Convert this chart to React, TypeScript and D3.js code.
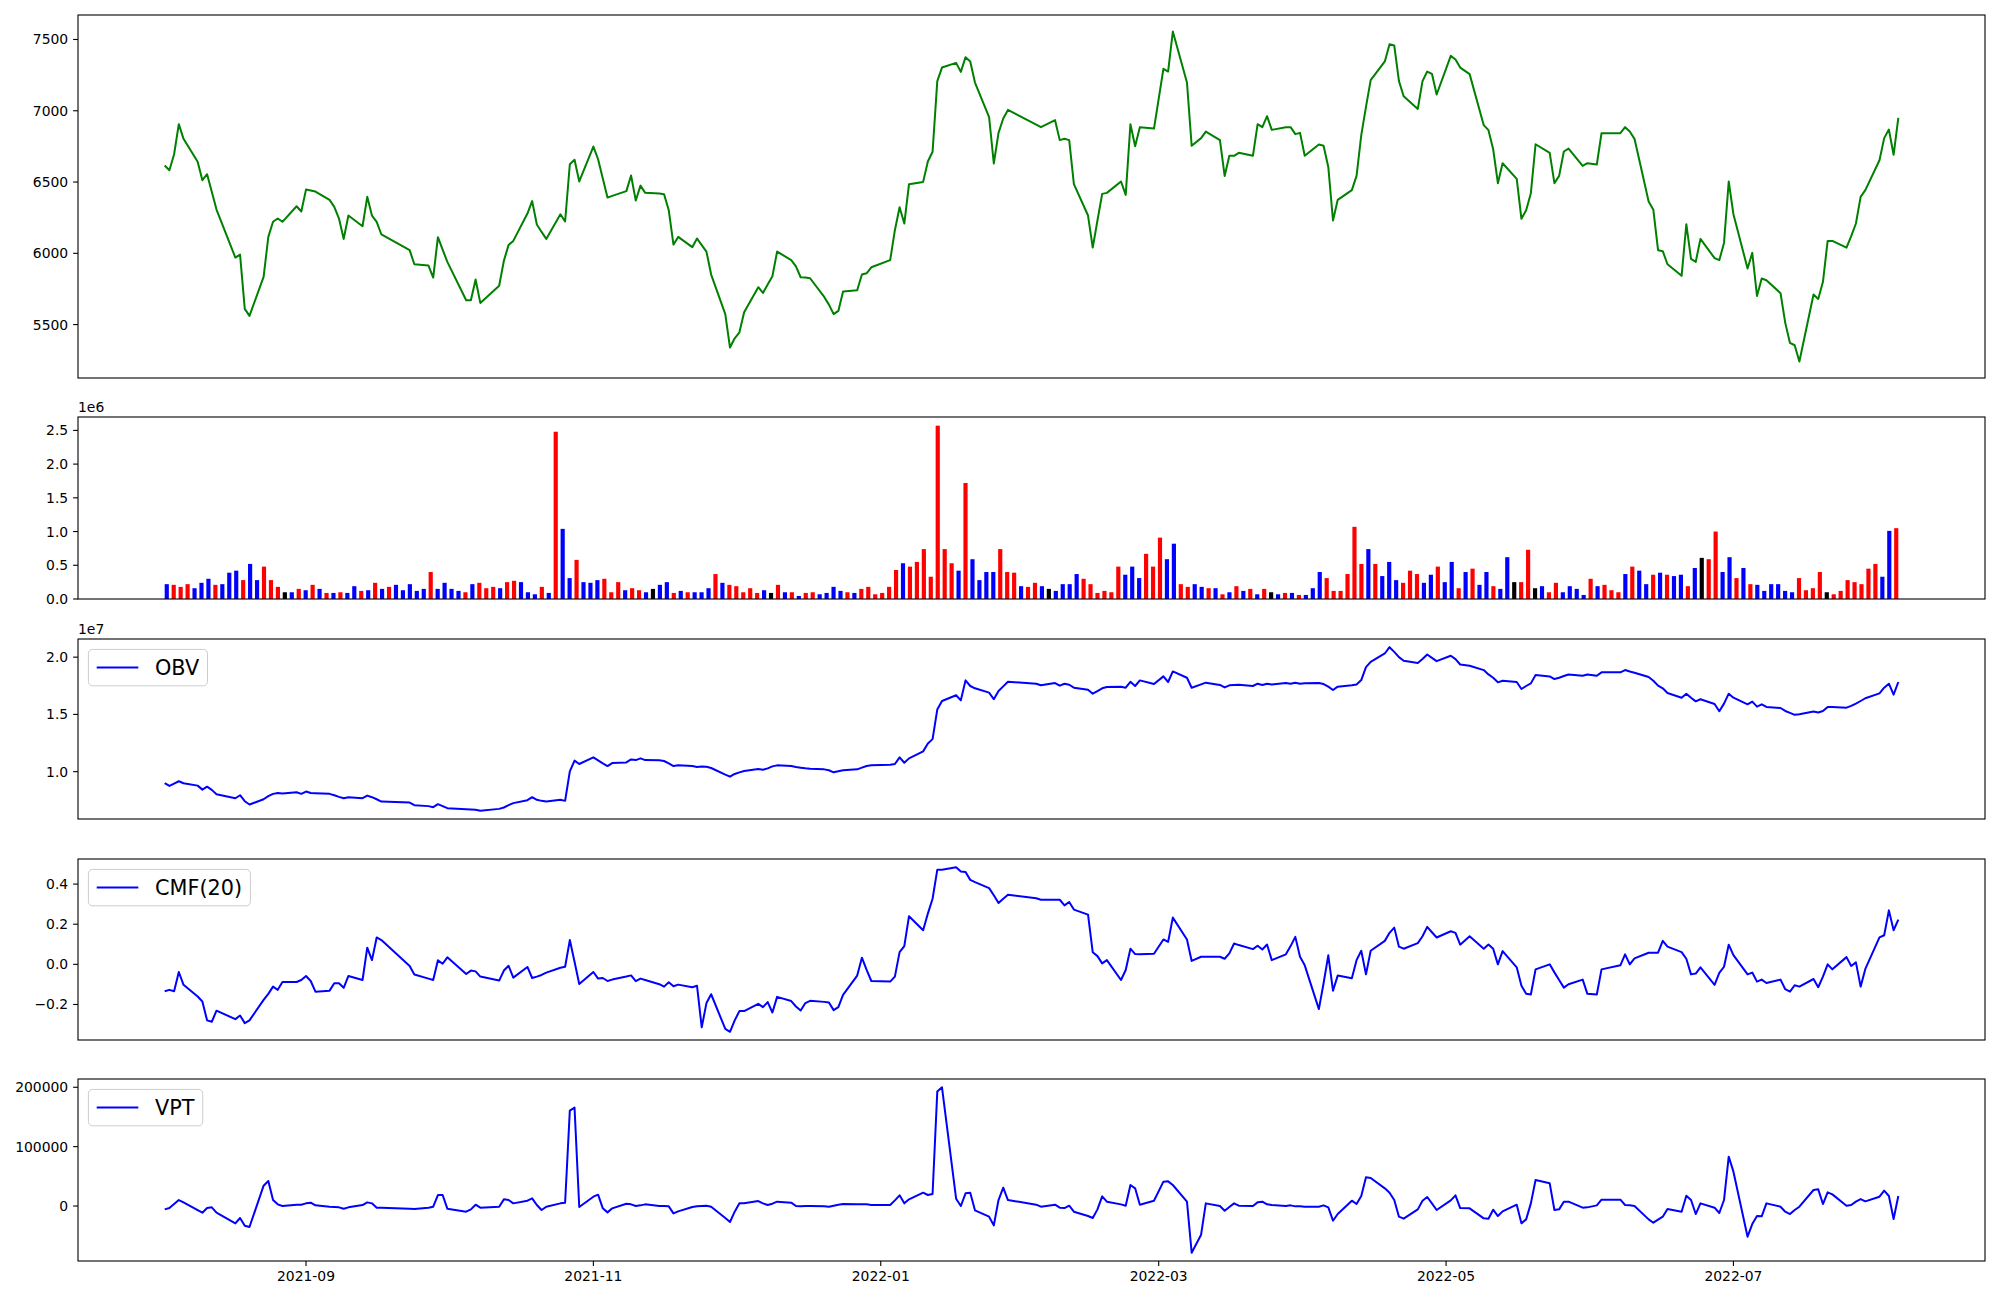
import React, { useMemo } from 'react';
import * as d3 from 'd3';

// ---------------- DATA ----------------
const START_DATE = '2021-08-02';
const END_DATE = '2022-08-05';
// KRX market holidays (weekdays) inside the range
const HOLIDAYS = [
  '2021-08-16', '2021-09-20', '2021-09-21', '2021-09-22', '2021-10-04', '2021-10-11',
  '2021-12-31', '2022-01-31', '2022-02-01', '2022-02-02', '2022-03-01', '2022-03-09',
  '2022-05-05', '2022-06-01', '2022-06-06',
];

const CLOSE = [
  6616, 6583, 6695, 6906, 6803, 6642, 6513, 6555, 6431, 6307, 5970, 5991, 5610, 5561, 5835, 6115, 6221, 6244, 6221, 6330, 6293,
  6447, 6440, 6433, 6375, 6326, 6244, 6101, 6265, 6190, 6396, 6265, 6221, 6132, 6022, 5923, 5914, 5830, 6113, 6026,
  5940, 5671, 5671, 5816, 5652, 5772, 5947, 6059, 6087, 6279, 6366, 6202, 6150, 6101, 6274, 6223, 6625, 6656, 6504,
  6749, 6660, 6525, 6391, 6403, 6436, 6546, 6370, 6475, 6424, 6419, 6415, 6302, 6061, 6115, 6043, 6104, 6057, 6012, 5851, 5573, 5339,
  5404, 5446, 5587, 5762, 5722, 5781, 5839, 6012, 5952, 5909, 5832, 5830, 5825, 5694, 5640, 5573, 5596, 5732, 5741, 5851, 5860, 5902,
  5952, 6162, 6323, 6209, 6485, 6501, 6644, 6712, 7208, 7303, 7336, 7273, 7376, 7346, 7198, 6955, 6630, 6845, 6946, 7006,
  6903, 6885, 6934, 6794, 6803, 6794, 6485, 6265, 6040, 6230, 6417, 6424, 6504, 6410, 6906, 6751, 6885, 6875,
  7294, 7275, 7556, 7198, 6754, 6808, 6854, 6794, 6543, 6684, 6684, 6705, 6684, 6906, 6885, 6962, 6866, 6885, 6885, 6836, 6845,
  6684, 6763, 6754, 6606, 6230, 6375, 6443, 6543, 6829, 7027, 7215, 7346, 7467, 7458, 7208, 7102, 7013, 7208, 7275, 7259, 7114,
  7385, 7360, 7303, 7257, 6899, 6864, 6730, 6492, 6632, 6522, 6242, 6302, 6422, 6765, 6705, 6492, 6543, 6714, 6735, 6613, 6632,
  6623, 6843, 6843, 6885, 6854, 6803, 6363, 6305, 6022, 6015, 5923, 5842, 6204, 5961, 5940, 6101, 5966, 5952, 6073, 6504,
  6274, 5893, 6003, 5701, 5823, 5811, 5720, 5512, 5371, 5355, 5241, 5711, 5680, 5800, 6087, 6087, 6040, 6120, 6209, 6396, 6443,
  6653, 6808, 6868, 6691, 6950,
];

// volume in units of 1e6 shares
const VOLUME_M = [
  0.22, 0.21, 0.18, 0.22, 0.16, 0.24, 0.30, 0.21, 0.22, 0.39,
  0.42, 0.28, 0.52, 0.28, 0.48, 0.28, 0.18, 0.10, 0.10, 0.15,
  0.13, 0.21, 0.15, 0.09, 0.09, 0.10, 0.09, 0.19, 0.12, 0.13,
  0.24, 0.15, 0.18, 0.21, 0.13, 0.22, 0.12, 0.15, 0.40, 0.15,
  0.24, 0.15, 0.12, 0.10, 0.22, 0.24, 0.16, 0.18, 0.16, 0.25,
  0.27, 0.25, 0.10, 0.07, 0.18, 0.09, 2.48, 1.04, 0.31, 0.58,
  0.25, 0.24, 0.28, 0.30, 0.10, 0.25, 0.13, 0.16, 0.13, 0.10,
  0.15, 0.21, 0.25, 0.09, 0.12, 0.10, 0.10,
  0.10, 0.16, 0.37, 0.24, 0.21, 0.19, 0.10, 0.16, 0.09, 0.13,
  0.09, 0.21, 0.10, 0.10, 0.045, 0.09, 0.10, 0.07, 0.09, 0.18,
  0.12, 0.10, 0.09, 0.15, 0.18, 0.07, 0.09, 0.18, 0.43, 0.53,
  0.48, 0.55, 0.74, 0.33, 2.57, 0.74, 0.53, 0.42, 1.72, 0.59,
  0.28, 0.40, 0.40, 0.74, 0.40, 0.39, 0.19, 0.18, 0.24, 0.19,
  0.15, 0.12, 0.22, 0.22, 0.37, 0.30, 0.22, 0.09, 0.12, 0.10,
  0.48, 0.36, 0.48, 0.31, 0.67, 0.48, 0.91, 0.59, 0.82, 0.22,
  0.18, 0.22, 0.18, 0.16, 0.16, 0.07, 0.10, 0.19, 0.12, 0.15,
  0.07, 0.15, 0.10, 0.07, 0.09, 0.09, 0.06, 0.06, 0.16, 0.40,
  0.31, 0.12, 0.12, 0.37, 1.07, 0.52, 0.74, 0.52, 0.34, 0.55,
  0.28, 0.24, 0.42, 0.37, 0.24, 0.36, 0.48, 0.25, 0.55, 0.16,
  0.40, 0.45, 0.21, 0.40, 0.19, 0.15, 0.62, 0.25, 0.25, 0.73,
  0.16, 0.19, 0.10, 0.24, 0.10, 0.19, 0.15, 0.06, 0.30, 0.19,
  0.21, 0.13, 0.10, 0.37, 0.48, 0.42, 0.22, 0.36, 0.39, 0.36,
  0.34, 0.36, 0.19, 0.46, 0.61, 0.59, 1.00, 0.40, 0.62, 0.31,
  0.46, 0.22, 0.21, 0.12, 0.22, 0.22, 0.12, 0.10, 0.31, 0.13,
  0.16, 0.40, 0.10, 0.07, 0.12, 0.28, 0.25, 0.22, 0.45, 0.52,
  0.33, 1.01, 1.05,
];

// bar colour per day: r = red, b = blue, k = black
const VOLUME_COLOR_CODES = [
  'brrrbbbrbb', 'brbbrrrkbr', 'brbrbrbbrb', 'rbrbbbbbrb', 'bbbrbrrrbr', 'rbbbrbrbbr', 'bbbrrrbrrb', 'kbbrbrb',
  'bbrbrrrrrb', 'krbrbrrbbb', 'brbrrrrrrb', 'rrrrrrrbrb', 'bbbrrrbrrb', 'kbbbbrrrrr', 'rbbbrrrbbr', 'rbbrbrbrbr',
  'brkbrbrbbb', 'rrrrrrbrbb', 'brrrbbrbbr', 'brbbrbbkrr', 'kbrrbbbbrb', 'rrrbrbbrbr', 'bbrbkrrbbr', 'brbbbbbbrr',
  'rrkrrrrrrr', 'bbr',
].join('').split('');

// OBV in units of 1e7
const OBV_E7 = [
  0.899, 0.875, 0.896, 0.916, 0.899, 0.878, 0.843, 0.869, 0.841, 0.803, 0.768, 0.794, 0.742, 0.713, 0.759, 0.786, 0.806, 0.814, 0.809, 0.820, 0.806,
  0.826, 0.814, 0.812, 0.806, 0.794, 0.780, 0.768, 0.777, 0.768, 0.791, 0.777, 0.759, 0.739, 0.730, 0.707, 0.699, 0.690, 0.716, 0.699,
  0.681, 0.672, 0.670, 0.667, 0.658, 0.675, 0.687, 0.707, 0.725, 0.751, 0.777, 0.754, 0.745, 0.739, 0.754, 0.745, 1.003, 1.096, 1.067,
  1.125, 1.099, 1.072, 1.049, 1.075, 1.081, 1.107, 1.101, 1.116, 1.101, 1.099, 1.093, 1.072, 1.049, 1.055, 1.049, 1.041, 1.046, 1.043, 1.032, 0.974, 0.956,
  0.980, 0.994, 1.006, 1.023, 1.017, 1.029, 1.046, 1.055, 1.049, 1.041, 1.035, 1.029, 1.026, 1.020, 1.012, 0.994, 1.003, 1.012, 1.020, 1.035, 1.049, 1.055,
  1.061, 1.067, 1.125, 1.078, 1.116, 1.177, 1.246, 1.284, 1.542, 1.617, 1.667, 1.623, 1.797, 1.748, 1.728, 1.690, 1.632, 1.704, 1.745, 1.785,
  1.768, 1.754, 1.774, 1.751, 1.768, 1.759, 1.733, 1.716, 1.681, 1.704, 1.728, 1.739, 1.742, 1.733, 1.785, 1.748, 1.797, 1.765,
  1.832, 1.783, 1.875, 1.820, 1.733, 1.762, 1.777, 1.757, 1.736, 1.754, 1.757, 1.759, 1.748, 1.768, 1.757, 1.768, 1.762, 1.774, 1.768, 1.777, 1.768,
  1.771, 1.774, 1.765, 1.742, 1.713, 1.742, 1.754, 1.762, 1.800, 1.913, 1.959, 2.032, 2.087, 2.046, 2.000, 1.968, 1.948, 1.983, 2.023, 1.994, 1.965,
  2.012, 1.983, 1.936, 1.925, 1.887, 1.849, 1.820, 1.780, 1.794, 1.783, 1.722, 1.748, 1.771, 1.844, 1.832, 1.809, 1.820, 1.835, 1.849, 1.838, 1.849,
  1.838, 1.867, 1.867, 1.887, 1.875, 1.864, 1.826, 1.794, 1.751, 1.728, 1.687, 1.646, 1.681, 1.646, 1.614, 1.632, 1.591, 1.528, 1.594, 1.681,
  1.646, 1.588, 1.612, 1.568, 1.588, 1.565, 1.556, 1.530, 1.513, 1.496, 1.501, 1.525, 1.516, 1.530, 1.565, 1.565, 1.559, 1.574, 1.594, 1.617, 1.641,
  1.684, 1.733, 1.768, 1.672, 1.783,
];

const CMF20 = [
  -0.134, -0.127, -0.134, -0.038, -0.102, -0.160, -0.185, -0.279, -0.286, -0.231, -0.273, -0.255, -0.293, -0.279, -0.177, -0.147, -0.111, -0.127, -0.088, -0.088, -0.078,
  -0.058, -0.083, -0.136, -0.131, -0.094, -0.094, -0.117, -0.058, -0.078, 0.083, 0.021, 0.134, 0.121, -0.008, -0.051, -0.071, -0.078, 0.020, 0.003,
  0.035, -0.048, -0.031, -0.035, -0.061, -0.081, -0.031, -0.007, -0.066, -0.013, -0.068, -0.061, -0.053, -0.041, -0.017, -0.012, 0.121, 0.013, -0.098,
  -0.038, -0.071, -0.068, -0.083, -0.076, -0.061, -0.055, -0.084, -0.071, -0.078, -0.099, -0.111, -0.089, -0.109, -0.101, -0.114, -0.107, -0.314, -0.193, -0.149, -0.322, -0.336,
  -0.279, -0.233, -0.233, -0.197, -0.213, -0.188, -0.240, -0.162, -0.183, -0.210, -0.230, -0.193, -0.182, -0.187, -0.190, -0.228, -0.213, -0.152, -0.056, 0.033, -0.028, -0.083,
  -0.086, -0.061, 0.061, 0.091, 0.240, 0.170, 0.253, 0.327, 0.471, 0.471, 0.484, 0.463, 0.460, 0.421, 0.410, 0.380, 0.344, 0.306, 0.327, 0.347,
  0.329, 0.322, 0.322, 0.322, 0.294, 0.311, 0.273, 0.248, 0.060, 0.041, 0.005, 0.021, -0.078, -0.028, 0.078, 0.051, 0.050, 0.053,
  0.124, 0.112, 0.233, 0.124, 0.017, 0.038, 0.038, 0.038, 0.028, 0.055, 0.104, 0.096, 0.076, 0.093, 0.074, 0.099, 0.021, 0.050, 0.091, 0.137, 0.038,
  -0.005, -0.223, -0.094, 0.045, -0.131, -0.056, -0.069, 0.021, 0.068, -0.050, 0.068, 0.117, 0.157, 0.183, 0.088, 0.078, 0.106, 0.140, 0.187, 0.160, 0.134,
  0.165, 0.157, 0.098, 0.140, 0.078, 0.099, 0.078, 0.000, 0.066, -0.015, -0.107, -0.147, -0.150, -0.025, 0.000, -0.040, -0.078, -0.116, -0.099, -0.076, -0.147,
  -0.150, -0.025, -0.005, 0.050, 0.000, 0.030, 0.058, 0.058, 0.058, 0.117, 0.088, 0.061, 0.028, -0.050, -0.046, -0.015, -0.102, -0.043, -0.012, 0.098,
  0.046, -0.050, -0.041, -0.086, -0.076, -0.093, -0.076, -0.124, -0.136, -0.104, -0.111, -0.073, -0.114, -0.061, 0.000, -0.025, 0.036, -0.008, 0.010, -0.111, -0.023,
  0.134, 0.145, 0.269, 0.170, 0.223,
];

const VPT = [
  -5618, -3371, 3371, 10112, 6180, -6742, -11236, -3371, -2247, -11236, -29214, -20225, -33146, -35393, 34270, 42135, 10112, 2809, 0, 2247, 2247,
  4494, 5618, 1124, -1124, -1685, -2247, -4494, -2247, 1685, 6180, 4494, -2809, -2809, -4494, -5056, -2809, -1124, 18539, 18539,
  -4494, -9551, -5618, 2247, -2809, -1124, 11236, 10112, 4494, 8989, 12921, 1685, -6742, -1124, 4494, 5618, 160675, 165731, -1685,
  15730, 19101, -3933, -10674, -3933, 3933, 2809, 0, 1124, 2809, 0, 0, -562, -12360, -8989, -1685, -562, 0, 562, -1124, -20225, -26966,
  -9551, 4494, 4494, 8427, 4494, 1685, 3933, 7303, 5618, 0, -562, 0, 0, -562, -1124, 562, 2247, 3371, 2809, 2809, 2809, 1685,
  1685, 9551, 17978, 4494, 11236, 22472, 18539, 20225, 192697, 200001, 12360, 0, 21348, 22472, -7303, -17978, -32584, 10112, 30899, 10112,
  2247, -1124, 2247, -2809, -3371, 562, -9551, -16854, -20225, -5618, 16292, 7303, 2809, 562, 35393, 29775, 2247, 8989,
  41011, 41573, 35393, 7303, -78652, -48315, 4494, 0, -7865, -1685, 4494, 562, 0, 6180, 7303, 2809, 1685, 0, 1124, -562, -562,
  -1124, -1124, 1124, -2247, -24719, -13483, 8989, 3371, 16854, 48315, 47191, 29775, 22472, 10112, -17978, -21348, -5618, 8989, 15169, 4494, -6742,
  9551, 17978, -3371, -3933, -20787, -21348, -6180, -16854, -8989, 2247, -29214, -22472, 4494, 43820, 38202, -6742, -5618, 7303, 7303, -2809, -2247,
  1124, 10674, 10674, 1685, 1124, 0, -22472, -28090, -23034, -17978, -5056, -9551, 17416, 10112, -13483, 4494, -2809, -11798, 10112, 83146,
  57865, -51686, -30337, -16854, -17416, 4494, -1124, -9551, -13483, -6742, -1124, 26966, 28090, 3371, 23034, 19663, 562, 1685, 7303, 11798, 7865,
  15730, 25843, 16854, -21910, 16854,
];

const PRICE_TICKS = [5500, 6000, 6500, 7000, 7500];
const VOLUME_TICKS_M = [0, 0.5, 1.0, 1.5, 2.0, 2.5];
const OBV_TICKS_E7 = [1.0, 1.5, 2.0];
const CMF_TICKS = [-0.2, 0.0, 0.2, 0.4];
const VPT_TICKS = [0, 100000, 200000];
const DATE_TICKS = ['2021-09-01', '2021-11-01', '2022-01-01', '2022-03-01', '2022-05-01', '2022-07-01'];

// ---------------- LAYOUT ----------------
const W = 2000;
const H = 1300;
const LEFT = 78;
const RIGHT = 1985;
const PANELS = [
  { top: 15, bottom: 378 },
  { top: 417, bottom: 599 },
  { top: 639, bottom: 819 },
  { top: 859, bottom: 1040 },
  { top: 1079, bottom: 1261 },
];
const FONT = 'DejaVu Sans, Liberation Sans, sans-serif';
const TICK_FS = 13.9;
const LEGEND_FS = 20.8;
const TICK_LEN = 4.9;
const SPINE_W = 1.1;
const LINE_W = 2.0;
const BAR_WIDTH = 0.6;
const COLOR_MAP: Record<string, string> = { r: '#ff0000', b: '#0000ff', k: '#000000' };

const minus = (s: string) => s.replace('-', '\u2212');

function buildTradingDays(): Date[] {
  const hol = new Set(HOLIDAYS);
  const out: Date[] = [];
  const d = new Date(START_DATE + 'T00:00:00Z');
  const end = new Date(END_DATE + 'T00:00:00Z');
  while (d <= end) {
    const wd = d.getUTCDay();
    const iso = d.toISOString().slice(0, 10);
    if (wd !== 0 && wd !== 6 && !hol.has(iso)) out.push(new Date(d.getTime()));
    d.setUTCDate(d.getUTCDate() + 1);
  }
  return out;
}

function padded(lo: number, hi: number): [number, number] {
  const r = hi - lo;
  return [lo - 0.05 * r, hi + 0.05 * r];
}

let measureCtx: CanvasRenderingContext2D | null = null;
function textWidth(s: string, size: number): number {
  if (!measureCtx) {
    const c = document.createElement('canvas');
    measureCtx = c.getContext('2d');
  }
  if (!measureCtx) return s.length * size * 0.6;
  measureCtx.font = `${size}px "DejaVu Sans"`;
  return measureCtx.measureText(s).width;
}

function Frame({ top, bottom }: { top: number; bottom: number }) {
  return (
    <rect x={LEFT} y={top} width={RIGHT - LEFT} height={bottom - top} fill="none" stroke="#000" strokeWidth={SPINE_W} />
  );
}

function YAxis({ scale, ticks, fmt }: { scale: d3.ScaleLinear<number, number>; ticks: number[]; fmt: (v: number) => string }) {
  return (
    <g>
      {ticks.map((t) => {
        const y = scale(t);
        return (
          <g key={t}>
            <line x1={LEFT - TICK_LEN} x2={LEFT} y1={y} y2={y} stroke="#000" strokeWidth={SPINE_W} />
            <text x={LEFT - TICK_LEN - 4.9} y={y} textAnchor="end" dominantBaseline="central" fontSize={TICK_FS} fontFamily={FONT} fill="#000">
              {fmt(t)}
            </text>
          </g>
        );
      })}
    </g>
  );
}

function Legend({ top, label }: { top: number; label: string }) {
  const pad = 0.4 * LEGEND_FS;
  const handle = 2.0 * LEGEND_FS;
  const textPad = 0.8 * LEGEND_FS;
  const x = LEFT + 0.5 * LEGEND_FS;
  const y = top + 0.5 * LEGEND_FS;
  const tw = textWidth(label, LEGEND_FS);
  const w = pad + handle + textPad + tw + pad;
  const h = 36.4;
  const cy = y + h / 2;
  return (
    <g>
      <rect x={x} y={y} width={w} height={h} rx={0.2 * LEGEND_FS} ry={0.2 * LEGEND_FS} fill="#ffffff" fillOpacity={0.8} stroke="#cccccc" strokeWidth={1} />
      <line x1={x + pad} x2={x + pad + handle} y1={cy} y2={cy} stroke="#0000ff" strokeWidth={LINE_W} />
      <text x={x + pad + handle + textPad} y={cy} dominantBaseline="central" fontSize={LEGEND_FS} fontFamily={FONT} fill="#000">
        {label}
      </text>
    </g>
  );
}

export default function App() {
  const dates = useMemo(buildTradingDays, []);
  const n = dates.length;

  const t0 = dates[0].getTime();
  const t1 = dates[n - 1].getTime();
  const span = t1 - t0;
  const x = d3.scaleUtc().domain([new Date(t0 - 0.05 * span), new Date(t1 + 0.05 * span)]).range([LEFT, RIGHT]);

  const iLo = -BAR_WIDTH / 2;
  const iHi = n - 1 + BAR_WIDTH / 2;
  const xi = d3.scaleLinear().domain(padded(iLo, iHi)).range([LEFT, RIGHT]);

  const pPrice = PANELS[0];
  const yPrice = d3.scaleLinear().domain(padded(d3.min(CLOSE)!, d3.max(CLOSE)!)).range([pPrice.bottom, pPrice.top]);

  const pVol = PANELS[1];
  const yVol = d3.scaleLinear().domain([0, d3.max(VOLUME_M)! * 1.05]).range([pVol.bottom, pVol.top]);

  const pObv = PANELS[2];
  const yObv = d3.scaleLinear().domain(padded(d3.min(OBV_E7)!, d3.max(OBV_E7)!)).range([pObv.bottom, pObv.top]);

  const pCmf = PANELS[3];
  const yCmf = d3.scaleLinear().domain(padded(d3.min(CMF20)!, d3.max(CMF20)!)).range([pCmf.bottom, pCmf.top]);

  const pVpt = PANELS[4];
  const yVpt = d3.scaleLinear().domain(padded(d3.min(VPT)!, d3.max(VPT)!)).range([pVpt.bottom, pVpt.top]);

  const mkLine = (ys: d3.ScaleLinear<number, number>) =>
    d3.line<number>().x((_, i) => x(dates[i])).y((v) => ys(v));

  const pricePath = mkLine(yPrice)(CLOSE) || '';
  const obvPath = mkLine(yObv)(OBV_E7) || '';
  const cmfPath = mkLine(yCmf)(CMF20) || '';
  const vptPath = mkLine(yVpt)(VPT) || '';

  const barPx = xi(BAR_WIDTH) - xi(0);
  const dateFmt = d3.utcFormat('%Y-%m');

  return (
    <svg width={W} height={H} viewBox={`0 0 ${W} ${H}`} style={{ position: 'absolute', left: 0, top: 0, background: '#ffffff' }}>
      <rect x={0} y={0} width={W} height={H} fill="#ffffff" />

      {/* Price */}
      <path d={pricePath} fill="none" stroke="#008000" strokeWidth={LINE_W} strokeLinejoin="round" />
      <Frame {...pPrice} />
      <YAxis scale={yPrice} ticks={PRICE_TICKS} fmt={(v) => String(v)} />

      {/* Volume */}
      {VOLUME_M.map((v, i) => (
        <rect
          key={i}
          x={xi(i) - barPx / 2}
          y={yVol(v)}
          width={barPx}
          height={yVol(0) - yVol(v)}
          fill={COLOR_MAP[VOLUME_COLOR_CODES[i]] || '#000'}
        />
      ))}
      <Frame {...pVol} />
      <YAxis scale={yVol} ticks={VOLUME_TICKS_M} fmt={(v) => v.toFixed(1)} />
      <text x={LEFT} y={pVol.top - 5} fontSize={TICK_FS} fontFamily={FONT} fill="#000">1e6</text>

      {/* OBV */}
      <path d={obvPath} fill="none" stroke="#0000ff" strokeWidth={LINE_W} strokeLinejoin="round" />
      <Frame {...pObv} />
      <YAxis scale={yObv} ticks={OBV_TICKS_E7} fmt={(v) => v.toFixed(1)} />
      <text x={LEFT} y={pObv.top - 5} fontSize={TICK_FS} fontFamily={FONT} fill="#000">1e7</text>
      <Legend top={pObv.top} label="OBV" />

      {/* CMF */}
      <path d={cmfPath} fill="none" stroke="#0000ff" strokeWidth={LINE_W} strokeLinejoin="round" />
      <Frame {...pCmf} />
      <YAxis scale={yCmf} ticks={CMF_TICKS} fmt={(v) => minus(v.toFixed(1))} />
      <Legend top={pCmf.top} label="CMF(20)" />

      {/* VPT */}
      <path d={vptPath} fill="none" stroke="#0000ff" strokeWidth={LINE_W} strokeLinejoin="round" />
      <Frame {...pVpt} />
      <YAxis scale={yVpt} ticks={VPT_TICKS} fmt={(v) => String(v)} />
      <Legend top={pVpt.top} label="VPT" />

      {/* Date axis */}
      {DATE_TICKS.map((s) => {
        const d = new Date(s + 'T00:00:00Z');
        const xx = x(d);
        return (
          <g key={s}>
            <line x1={xx} x2={xx} y1={pVpt.bottom} y2={pVpt.bottom + TICK_LEN} stroke="#000" strokeWidth={SPINE_W} />
            <text x={xx} y={pVpt.bottom + TICK_LEN + 4.9} textAnchor="middle" dominantBaseline="hanging" fontSize={TICK_FS} fontFamily={FONT} fill="#000">
              {dateFmt(d)}
            </text>
          </g>
        );
      })}
    </svg>
  );
}
